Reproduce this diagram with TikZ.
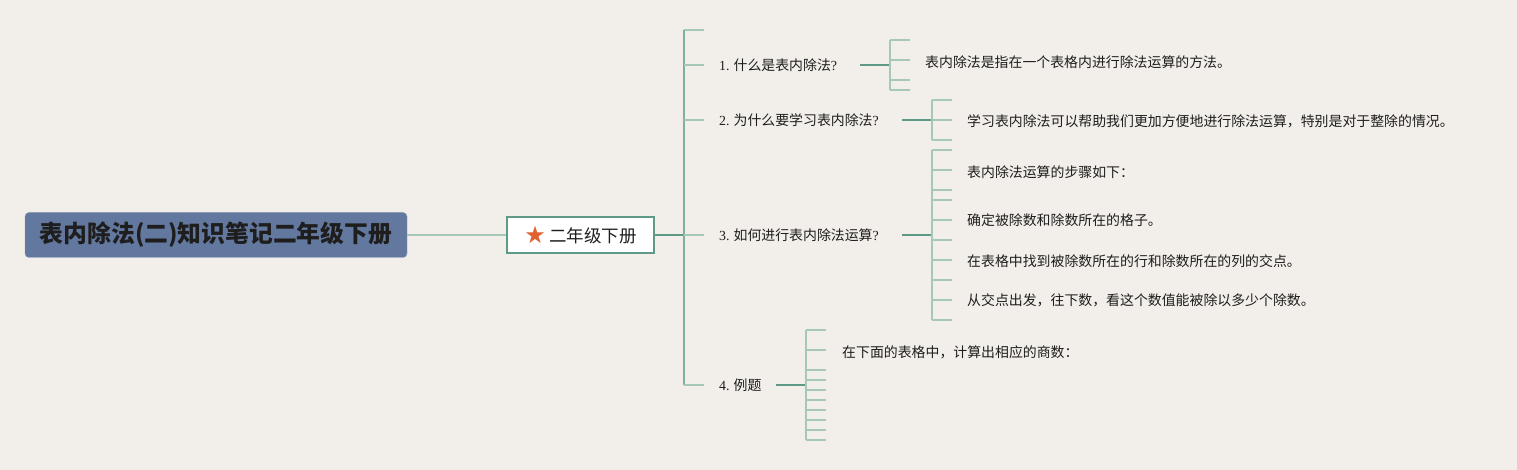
\documentclass[tikz,border=0pt]{standalone}
\usepackage{fontspec}
\usepackage{xcolor}
\setmainfont{Liberation Serif}
\newfontfamily\cjk{Noto Sans CJK SC}
\newfontfamily\djv{DejaVu Sans}
\definecolor{bg}{HTML}{F2EEE9}
\definecolor{rootfill}{HTML}{63789F}
\definecolor{lineLite}{HTML}{A5C8B7}
\definecolor{lineMid}{HTML}{7FB09F}
\definecolor{lineDark}{HTML}{5E9A87}
\definecolor{starc}{HTML}{E0622E}
\definecolor{ink}{HTML}{1E1E1E}

\begin{document}
\begin{tikzpicture}[x=1pt,y=-1pt,
   every node/.style={inner sep=0pt,text=ink},
   root/.style={fill=rootfill,draw=rootfill!75!white,rounded corners=4pt,minimum width=382pt,minimum height=45pt,font=\cjk\bfseries\fontsize{23.8}{28}\selectfont},
   topic/.style={fill=white,draw=lineDark,line width=1.6pt,minimum width=147pt,minimum height=36pt,font=\cjk\fontsize{17.5}{21}\selectfont},
   sub/.style={anchor=west,align=left,font=\fontsize{13.9}{16}\selectfont},
   leaf/.style={anchor=west,font=\cjk\fontsize{13.9}{16}\selectfont},
   link/.style={draw=lineLite,line width=1.4pt},
   trunk/.style={draw=lineMid,line width=1.6pt},
   stem/.style={draw=lineDark,line width=1.8pt}]
\fill[bg] (0,0) rectangle (1517,470);
% centre
\node[root] (root) at (216,235) {表内除法(二)知识笔记二年级下册};
\node[topic] (main) at (580.5,235) {\raisebox{-1pt}{\djv\color{starc}\fontsize{24}{24}\selectfont ★}\hspace{3pt}二年级下册};
\draw[link] (root.east) -- (main.west);
% trunk
\coordinate (top) at (684,30);
\coordinate (bot) at (684,385);
\draw[stem] (main.east) -- (main.east -| top);
\draw[link] ([xshift=20pt]top) -- (top);
\draw[trunk] (top) -- (bot);
% questions
\node[sub,text width=141pt] (Q_{1}) at (719,65) {1.\hspace{4pt}{\cjk 什么是表内除法}?};
\node[sub,text width=183pt] (Q_{2}) at (719,120) {2.\hspace{4pt}{\cjk 为什么要学习表内除法}?};
\node[sub,text width=183pt] (Q_{3}) at (719,235) {3.\hspace{4pt}{\cjk 如何进行表内除法运算}?};
\node[sub,text width=57pt] (Q_{4}) at (719,385) {4.\hspace{4pt}{\cjk 例题}};
\foreach \n in {1,2,3,4}
  \draw[link] (top |- Q_{\n}.west) -- ++(20,0);
% brackets
\coordinate (B_{1}) at (890,65);
\coordinate (B_{2}) at (932,120);
\coordinate (B_{3}) at (932,235);
\coordinate (B_{4}) at (806,385);
\foreach \n in {1,2,3,4}
  \draw[stem] (Q_{\n}.east) -- (B_{\n});
\foreach \y in {40,60,80,90} \draw[link] (B_{1} |- 0,\y) -- ++(20,0);
\draw[link] (B_{1} |- 0,40) -- (B_{1} |- 0,90);
\foreach \y in {100,120,140} \draw[link] (B_{2} |- 0,\y) -- ++(20,0);
\draw[link] (B_{2} |- 0,100) -- (B_{2} |- 0,140);
\foreach \y in {150,170,190,200,220,240,260,280,300,320} \draw[link] (B_{3} |- 0,\y) -- ++(20,0);
\draw[link] (B_{3} |- 0,150) -- (B_{3} |- 0,320);
\foreach \y in {330,350,370,380,390,400,410,420,430,440} \draw[link] (B_{4} |- 0,\y) -- ++(20,0);
\draw[link] (B_{4} |- 0,330) -- (B_{4} |- 0,440);
% answers
\node[leaf] (A_{1}) at (925,62) {表内除法是指在一个表格内进行除法运算的方法。};
\node[leaf] (A_{2}) at (967,121) {学习表内除法可以帮助我们更加方便地进行除法运算，特别是对于整除的情况。};
\node[leaf] (A_{3}) at (967,172) {表内除法运算的步骤如下：};
\node[leaf] (A_{4}) at (967,220) {确定被除数和除数所在的格子。};
\node[leaf] (A_{5}) at (967,261) {在表格中找到被除数所在的行和除数所在的列的交点。};
\node[leaf] (A_{6}) at (967,300) {从交点出发，往下数，看这个数值能被除以多少个除数。};
\node[leaf] (A_{7}) at (842,352) {在下面的表格中，计算出相应的商数：};
\end{tikzpicture}
\end{document}
